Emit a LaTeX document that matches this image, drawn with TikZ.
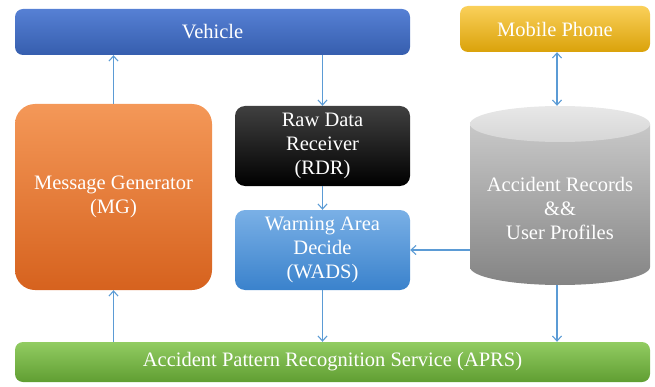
\documentclass[tikz,border=0pt]{standalone}
\usepackage{fontspec}
\setmainfont{Liberation Serif}
\usetikzlibrary{arrows.meta,shadings}
\definecolor{link}{HTML}{5B9BD5}
\tikzset{
  box/.style={rounded corners=#1, text=white, align=center, inner sep=2pt,
    font=\fontsize{20.5}{24}\selectfont},
  box/.default=8pt,
  flow/.style={draw=link, line width=1.1pt, -{Straight Barb[length=5pt,width=9pt]}},
  twoway/.style={draw=link, line width=1.1pt, {Straight Barb[length=5pt,width=9pt]}-{Straight Barb[length=5pt,width=9pt]}},
}
\begin{document}
\begin{tikzpicture}[x=1pt,y=1pt]
\useasboundingbox (0,0) rectangle (655,386);

% top row
\node[box, minimum width=395pt, minimum height=46pt,
      top color={rgb,255:red,86;green,128;blue,212}, bottom color={rgb,255:red,54;green,94;blue,174}]
      (veh) at (212.5,354) {Vehicle};
\node[box, minimum width=190pt, minimum height=46pt,
      top color={rgb,255:red,250;green,208;blue,90}, bottom color={rgb,255:red,218;green,162;blue,10}]
      (mob) at (555,357) {Mobile Phone};

% middle row
\node[box=20pt, minimum width=197pt, minimum height=186pt,
      top color={rgb,255:red,244;green,152;blue,88}, bottom color={rgb,255:red,214;green,98;blue,30}]
      (mg) at (113.5,189) {Message Generator\\(MG)};
\node[box=10pt, minimum width=175pt, minimum height=80pt,
      top color={rgb,255:red,64;green,64;blue,64}, bottom color=black]
      (rdr) at (322.5,240) {Raw Data\\Receiver\\(RDR)};
\node[box=10pt, minimum width=175pt, minimum height=80pt,
      top color={rgb,255:red,122;green,176;blue,230}, bottom color={rgb,255:red,58;green,130;blue,204}]
      (wads) at (322.5,136) {Warning Area\\Decide\\(WADS)};

% database cylinder
\shade[top color={rgb,255:red,200;green,200;blue,200}, bottom color={rgb,255:red,132;green,132;blue,132}]
  (470,262) -- (470,119) arc[start angle=180, end angle=360, x radius=90, y radius=18]
  -- (650,262) -- cycle;
\shade[top color={rgb,255:red,232;green,232;blue,232}, bottom color={rgb,255:red,214;green,214;blue,214}]
  (560,262) ellipse[x radius=90, y radius=18];
\node[minimum width=180pt, minimum height=179pt, inner sep=0pt] (db) at (560,190.5) {};
\node[box, fill=none] (dbtxt) at (560,178) {Accident Records\\\&\&\\User Profiles};

% bottom bar
\node[box, minimum width=635pt, minimum height=40pt,
      top color={rgb,255:red,146;green,204;blue,98}, bottom color={rgb,255:red,96;green,158;blue,50}]
      (aprs) at (332.5,24) {Accident Pattern Recognition Service (APRS)};

% connectors
\draw[flow] (mg.north) -- (mg.north |- veh.south);
\draw[flow] (rdr.north |- veh.south) -- (rdr.north);
\draw[flow] (rdr.south) -- (wads.north);
\draw[flow] (db.west |- wads.east) -- (wads.east);
\draw[flow] (wads.south) -- (wads.south |- aprs.north);
\draw[flow] (mg.south |- aprs.north) -- (mg.south);
\draw[flow] (db.south -| 557,0) -- (557,0 |- aprs.north);
\draw[twoway] (557,0 |- mob.south) -- (557,0 |- db.north);
\end{tikzpicture}
\end{document}
